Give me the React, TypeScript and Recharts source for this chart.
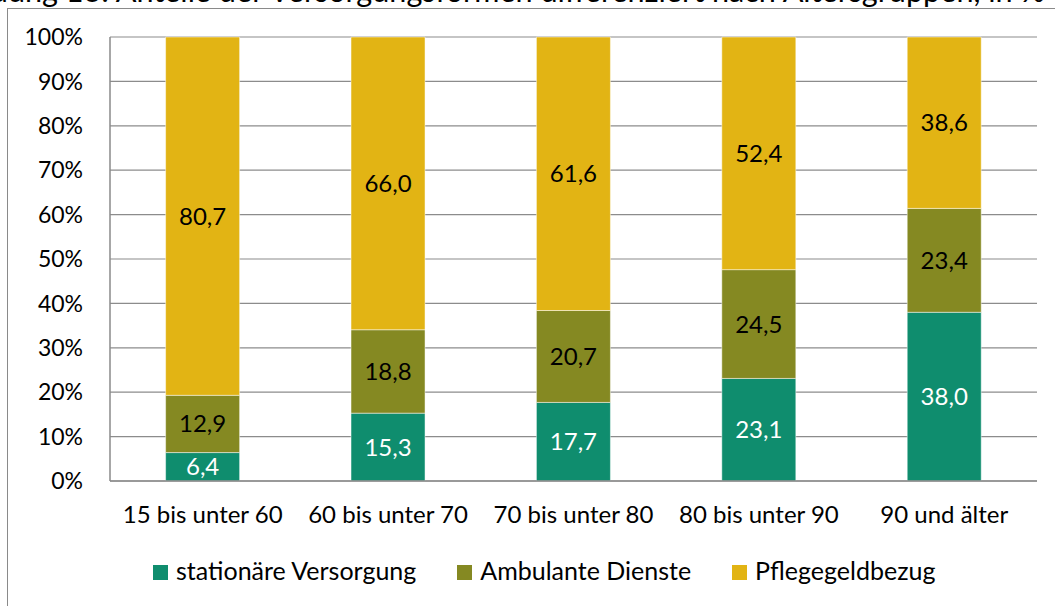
import { BarChart, Bar, XAxis, YAxis, CartesianGrid, Legend, LabelList } from 'recharts'

const ageGroups = ['15 bis unter 60', '60 bis unter 70', '70 bis unter 80', '80 bis unter 90', '90 und älter']
const stationaer = [6.4, 15.3, 17.7, 23.1, 38.0]
const ambulant = [12.9, 18.8, 20.7, 24.5, 23.4]
const pflegegeld = [80.7, 66.0, 61.6, 52.4, 38.6]
const percentTicks = [0, 10, 20, 30, 40, 50, 60, 70, 80, 90, 100]

const seriesInfo = [
    { key: 'stationaer', name: 'stationäre Versorgung', color: '#0f8d6e', label: '#ffffff' },
    { key: 'ambulant', name: 'Ambulante Dienste', color: '#858922', label: '#000000' },
    { key: 'pflegegeld', name: 'Pflegegeldbezug', color: '#e2b414', label: '#000000' },
]

const data = ageGroups.map((name, i) => ({
    name,
    stationaer: stationaer[i],
    ambulant: ambulant[i],
    pflegegeld: pflegegeld[i],
}))

const font = 'Lato, "Open Sans", sans-serif'
const fmt = (v: any) => Number(v).toFixed(1).replace('.', ',')

function LegendBox() {
    return (
        <div style={{ display: 'flex', alignItems: 'center', fontFamily: font, fontSize: 25, color: '#000', whiteSpace: 'nowrap' }}>
            {seriesInfo.map((s) => (
                <div key={s.key} style={{ display: 'flex', alignItems: 'center', marginRight: 41 }}>
                    <span style={{ display: 'inline-block', width: 15, height: 15, background: s.color, marginRight: 8, marginTop: 4 }} />
                    <span>{s.name}</span>
                </div>
            ))}
        </div>
    )
}

export default function App() {
    return (
        <div style={{ position: 'absolute', left: 0, top: 0, width: 1055, height: 606, overflow: 'hidden', background: '#fff', fontFamily: font }}>
            <div style={{ position: 'absolute', right: 10, top: -24, lineHeight: '30px', fontSize: 30.6, whiteSpace: 'nowrap', color: '#000' }}>
                Abbildung 13: Anteile der Versorgungsformen differenziert nach Altersgruppen, in %
            </div>
            <div style={{ position: 'absolute', left: 7, top: 8, width: 1100, height: 700, border: '1px solid #8a8a8a' }} />
            <div style={{ position: 'absolute', left: 0, top: 0 }}>
                <BarChart
                    width={1055}
                    height={606}
                    data={data}
                    stackOffset='expand'
                    barCategoryGap='30%'
                    margin={{ top: 37, right: 18, bottom: 95, left: 0 }}
                >
                    <CartesianGrid vertical={false} stroke='#8c8c8c' strokeWidth={1.2} />
                    <XAxis
                        dataKey='name'
                        height={30}
                        tickSize={0}
                        tickMargin={25}
                        axisLine={{ stroke: '#8a8a8a', strokeWidth: 1.5 }}
                        tick={{ fill: '#000', fontSize: 24, fontFamily: font }}
                    />
                    <YAxis
                        width={110}
                        domain={[0, 1]}
                        ticks={percentTicks.map((t) => t / 100)}
                        tickFormatter={(v: number) => `${Math.round(v * 100)}%`}
                        tickSize={0}
                        tickMargin={27}
                        axisLine={{ stroke: '#8a8a8a', strokeWidth: 1.5 }}
                        tick={{ fill: '#000', fontSize: 23, fontFamily: font }}
                    />
                    <Legend
                        verticalAlign='middle'
                        align='center'
                        wrapperStyle={{ left: 153, top: 555, width: 'auto' }}
                        content={() => <LegendBox />}
                    />
                    {seriesInfo.map((s) => (
                        <Bar
                            key={s.key}
                            dataKey={s.key}
                            name={s.name}
                            stackId='a'
                            fill={s.color}
                            stroke='#ffffff'
                            strokeOpacity={0.6}
                            strokeWidth={0.8}
                            isAnimationActive={false}
                        >
                            <LabelList
                                dataKey={s.key}
                                position='center'
                                formatter={fmt}
                                fill={s.label}
                                style={{ fontSize: 24, fontFamily: font }}
                            />
                        </Bar>
                    ))}
                </BarChart>
            </div>
        </div>
    )
}
